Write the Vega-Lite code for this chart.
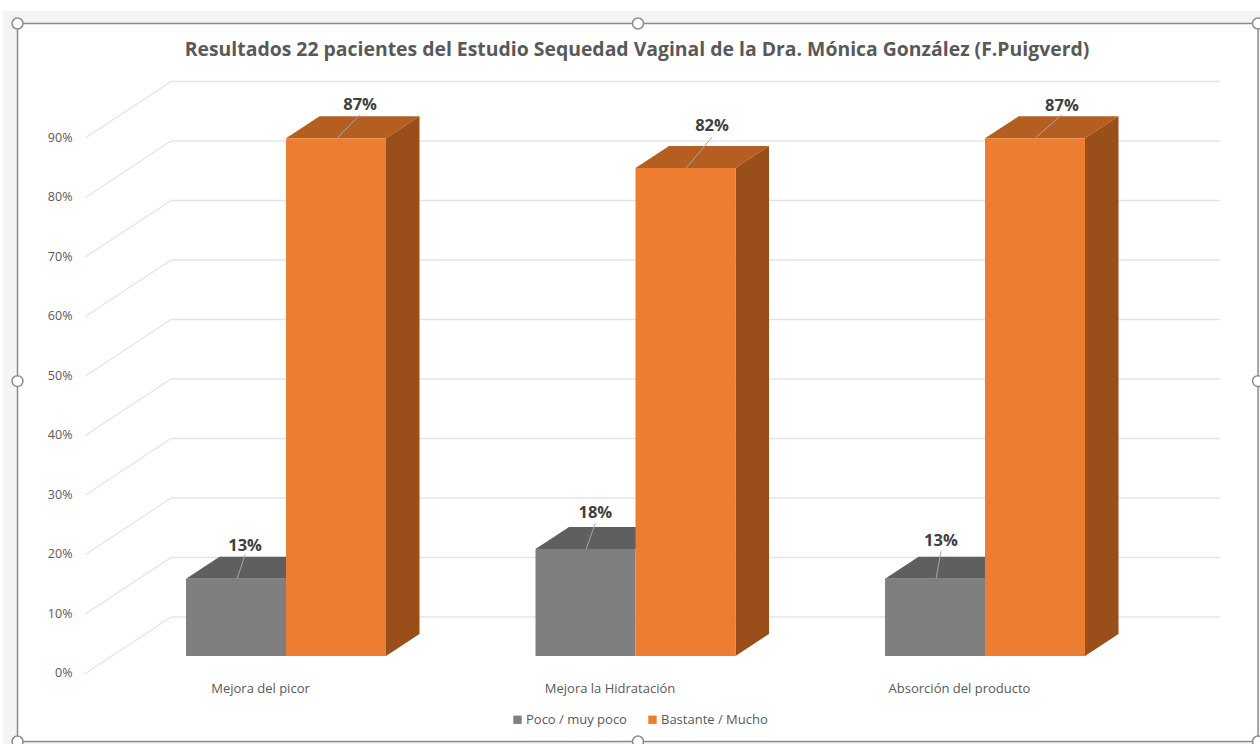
{
"$schema":"https://vega.github.io/schema/vega-lite/v6.json",
"width":1260,"height":744,"padding":0,"autosize":{"type":"none"},
"background":"#ffffff",
"view":{"stroke":null},
"title":{"text":"Resultados 22 pacientes del Estudio Sequedad Vaginal de la Dra. Mónica González (F.Puigverd)","anchor":"middle","frame":"group","offset":-60,"dx":7,"font":"Open Sans","fontSize":19.4,"fontWeight":"bold","color":"#595959"},
"config":{"font":"Open Sans"},
"datasets":{
"resultados":[
{"categoria":"Mejora del picor","posicion":0,"serie":"Poco / muy poco","valor":13},
{"categoria":"Mejora del picor","posicion":0,"serie":"Bastante / Mucho","valor":87},
{"categoria":"Mejora la Hidratación","posicion":1,"serie":"Poco / muy poco","valor":18},
{"categoria":"Mejora la Hidratación","posicion":1,"serie":"Bastante / Mucho","valor":82},
{"categoria":"Absorción del producto","posicion":2,"serie":"Poco / muy poco","valor":13},
{"categoria":"Absorción del producto","posicion":2,"serie":"Bastante / Mucho","valor":87}
],
"marcas":[{"marca":0},{"marca":10},{"marca":20},{"marca":30},{"marca":40},{"marca":50},{"marca":60},{"marca":70},{"marca":80},{"marca":90}],
"etiquetas":[
{"texto":"13%","desde_x":-0.140,"desde_y":13,"hasta_x":-0.117,"hasta_y":17,"texto_x":-0.117,"texto_y":18.5},
{"texto":"87%","desde_x":0.146,"desde_y":87,"hasta_x":0.212,"hasta_y":91,"texto_x":0.212,"texto_y":92.6},
{"texto":"18%","desde_x":0.859,"desde_y":18,"hasta_x":0.885,"hasta_y":22.3,"texto_x":0.885,"texto_y":24.1},
{"texto":"82%","desde_x":1.145,"desde_y":82,"hasta_x":1.219,"hasta_y":87.2,"texto_x":1.219,"texto_y":89.1},
{"texto":"13%","desde_x":1.860,"desde_y":13,"hasta_x":1.874,"hasta_y":17.6,"texto_x":1.874,"texto_y":19.3},
{"texto":"87%","desde_x":2.143,"desde_y":87,"hasta_x":2.220,"hasta_y":91,"texto_x":2.220,"texto_y":92.5}
],
"asas":[
{"ax":-0.7682,"ay":106.3},{"ax":1.0072,"ay":106.3},{"ax":2.7811,"ay":106.3},
{"ax":-0.7682,"ay":46.2},{"ax":2.7811,"ay":46.2},
{"ax":-0.7682,"ay":-14.37},{"ax":1.0072,"ay":-14.37},{"ax":2.7811,"ay":-14.37}
]
},
"layer":[
{"data":{"values":[{}]},"mark":{"type":"rect","fill":"#f4f4f4"},
"encoding":{
"x":{"datum":-0.8097,"type":"quantitative","scale":{"domain":[-0.8183,2.7868],"nice":false,"zero":false},
 "axis":{"values":[0,1,2],"title":null,"grid":false,"domain":false,"ticks":false,"orient":"bottom","offset":-62,"labelPadding":0,"labelOffset":-26,"labelFont":"Open Sans","labelFontSize":13,"labelColor":"#595959","labelOverlap":false,"labelBound":false,"labelFlush":false,"zindex":1,"labelExpr":"['Mejora del picor','Mejora la Hidratación','Absorción del producto'][datum.value]"}},
"x2":{"datum":2.7868},
"y":{"datum":108.4,"type":"quantitative","scale":{"domain":[-14.79,110.25],"nice":false,"zero":false},
 "axis":{"values":[0,10,20,30,40,50,60,70,80,90],"title":null,"grid":false,"domain":false,"ticks":false,"orient":"left","offset":-72,"labelPadding":0,"labelOffset":17,"labelFont":"Open Sans","labelFontSize":12.5,"labelColor":"#595959","labelOverlap":false,"labelBound":false,"zindex":1,"labelExpr":"datum.value + '%'"}},
"y2":{"datum":-14.79}
}},
{"data":{"values":[{}]},"mark":{"type":"rect","fill":"#ffffff","stroke":"#8c8c8c","strokeWidth":1.5},
"encoding":{
"x":{"datum":-0.7682,"type":"quantitative","scale":{"domain":[-0.8183,2.7868],"nice":false,"zero":false}},
"x2":{"datum":2.7811},
"y":{"datum":106.3,"type":"quantitative","scale":{"domain":[-14.79,110.25],"nice":false,"zero":false}},
"y2":{"datum":-14.37}
}},
{"data":{"name":"marcas"},
"transform":[{"calculate":"datum.marca + 6.55","as":"fondo"}],
"mark":{"type":"rule","color":"#e4e4e4","strokeWidth":1.5},
"encoding":{
"x":{"datum":-0.329,"type":"quantitative","scale":{"domain":[-0.8183,2.7868],"nice":false,"zero":false}},
"x2":{"datum":2.6724},
"y":{"field":"fondo","type":"quantitative","scale":{"domain":[-14.79,110.25],"nice":false,"zero":false}}
}},
{"data":{"name":"marcas"},
"transform":[{"calculate":"datum.marca + 6.55","as":"fondo"},{"calculate":"datum.marca - 2.97","as":"frente"}],
"mark":{"type":"rule","color":"#e4e4e4","strokeWidth":1.2},
"encoding":{
"x":{"datum":-0.5751,"type":"quantitative","scale":{"domain":[-0.8183,2.7868],"nice":false,"zero":false}},
"x2":{"datum":-0.329},
"y":{"field":"frente","type":"quantitative","scale":{"domain":[-14.79,110.25],"nice":false,"zero":false}},
"y2":{"field":"fondo"}
}},
{"data":{"name":"resultados"},
"transform":[
{"calculate":"datum.posicion + (datum.serie === 'Bastante / Mucho' ? 0 : -0.2861)","as":"izq"},
{"calculate":"[0,1,2,3]","as":"esquina"},{"flatten":["esquina"]},
{"calculate":"datum.izq + (datum.esquina === 0 ? 0 : datum.esquina === 1 ? 0.0959 : datum.esquina === 2 ? 0.2861 : 0.382)","as":"px"},
{"calculate":"datum.valor + (datum.esquina === 3 ? 3.7 : 0)","as":"y_bajo"},
{"calculate":"datum.valor + (datum.esquina === 0 ? 0 : 3.7)","as":"y_alto"}
],
"mark":{"type":"area","line":false,"opacity":1},
"encoding":{
"x":{"field":"px","type":"quantitative","scale":{"domain":[-0.8183,2.7868],"nice":false,"zero":false}},
"y":{"field":"y_bajo","type":"quantitative","scale":{"domain":[-14.79,110.25],"nice":false,"zero":false}},
"y2":{"field":"y_alto"},
"detail":[{"field":"categoria"},{"field":"serie"}],
"fill":{"condition":{"test":"datum.serie === 'Poco / muy poco'","value":"#5f5f5f"},"value":"#b45f21"}
}},
{"data":{"name":"resultados"},
"transform":[
{"filter":"datum.serie === 'Bastante / Mucho'"},
{"calculate":"[0,1]","as":"esquina"},{"flatten":["esquina"]},
{"calculate":"datum.posicion + 0.2861 + datum.esquina * 0.0959","as":"px"},
{"calculate":"datum.esquina * 3.7","as":"y_bajo"},
{"calculate":"datum.valor + datum.esquina * 3.7","as":"y_alto"}
],
"mark":{"type":"area","color":"#9a4f1b"},
"encoding":{
"x":{"field":"px","type":"quantitative","scale":{"domain":[-0.8183,2.7868],"nice":false,"zero":false}},
"y":{"field":"y_bajo","type":"quantitative","scale":{"domain":[-14.79,110.25],"nice":false,"zero":false}},
"y2":{"field":"y_alto"},
"detail":{"field":"categoria"}
}},
{"data":{"name":"resultados"},
"transform":[
{"calculate":"datum.posicion + (datum.serie === 'Bastante / Mucho' ? 0 : -0.2861)","as":"izq"},
{"calculate":"datum.izq + 0.2861","as":"der"}
],
"mark":{"type":"rect"},
"encoding":{
"x":{"field":"izq","type":"quantitative","scale":{"domain":[-0.8183,2.7868],"nice":false,"zero":false}},
"x2":{"field":"der"},
"y":{"field":"valor","type":"quantitative","scale":{"domain":[-14.79,110.25],"nice":false,"zero":false}},
"y2":{"datum":0},
"color":{"field":"serie","type":"nominal","scale":{"domain":["Poco / muy poco","Bastante / Mucho"],"range":["#7f7f7f","#ed7d31"]},
 "legend":{"title":null,"orient":"none","legendX":511,"legendY":713,"direction":"horizontal","symbolType":"square","symbolSize":70,"labelFont":"Open Sans","labelFontSize":13,"labelColor":"#595959","columnPadding":19,"labelOffset":2}}
}},
{"data":{"name":"etiquetas"},
"mark":{"type":"rule","color":"#a6a6a6","strokeWidth":1},
"encoding":{
"x":{"field":"desde_x","type":"quantitative","scale":{"domain":[-0.8183,2.7868],"nice":false,"zero":false}},
"x2":{"field":"hasta_x"},
"y":{"field":"desde_y","type":"quantitative","scale":{"domain":[-14.79,110.25],"nice":false,"zero":false}},
"y2":{"field":"hasta_y"}
}},
{"data":{"name":"etiquetas"},
"mark":{"type":"text","font":"Open Sans","fontSize":16.5,"fontWeight":"bold","color":"#404040","align":"center","baseline":"middle"},
"encoding":{
"x":{"field":"texto_x","type":"quantitative","scale":{"domain":[-0.8183,2.7868],"nice":false,"zero":false}},
"y":{"field":"texto_y","type":"quantitative","scale":{"domain":[-14.79,110.25],"nice":false,"zero":false}},
"text":{"field":"texto"}
}},
{"data":{"name":"asas"},
"mark":{"type":"point","filled":true,"fill":"#ffffff","stroke":"#8c8c8c","strokeWidth":1.5,"size":120,"opacity":1},
"encoding":{
"x":{"field":"ax","type":"quantitative","scale":{"domain":[-0.8183,2.7868],"nice":false,"zero":false}},
"y":{"field":"ay","type":"quantitative","scale":{"domain":[-14.79,110.25],"nice":false,"zero":false}}
}}
]
}
